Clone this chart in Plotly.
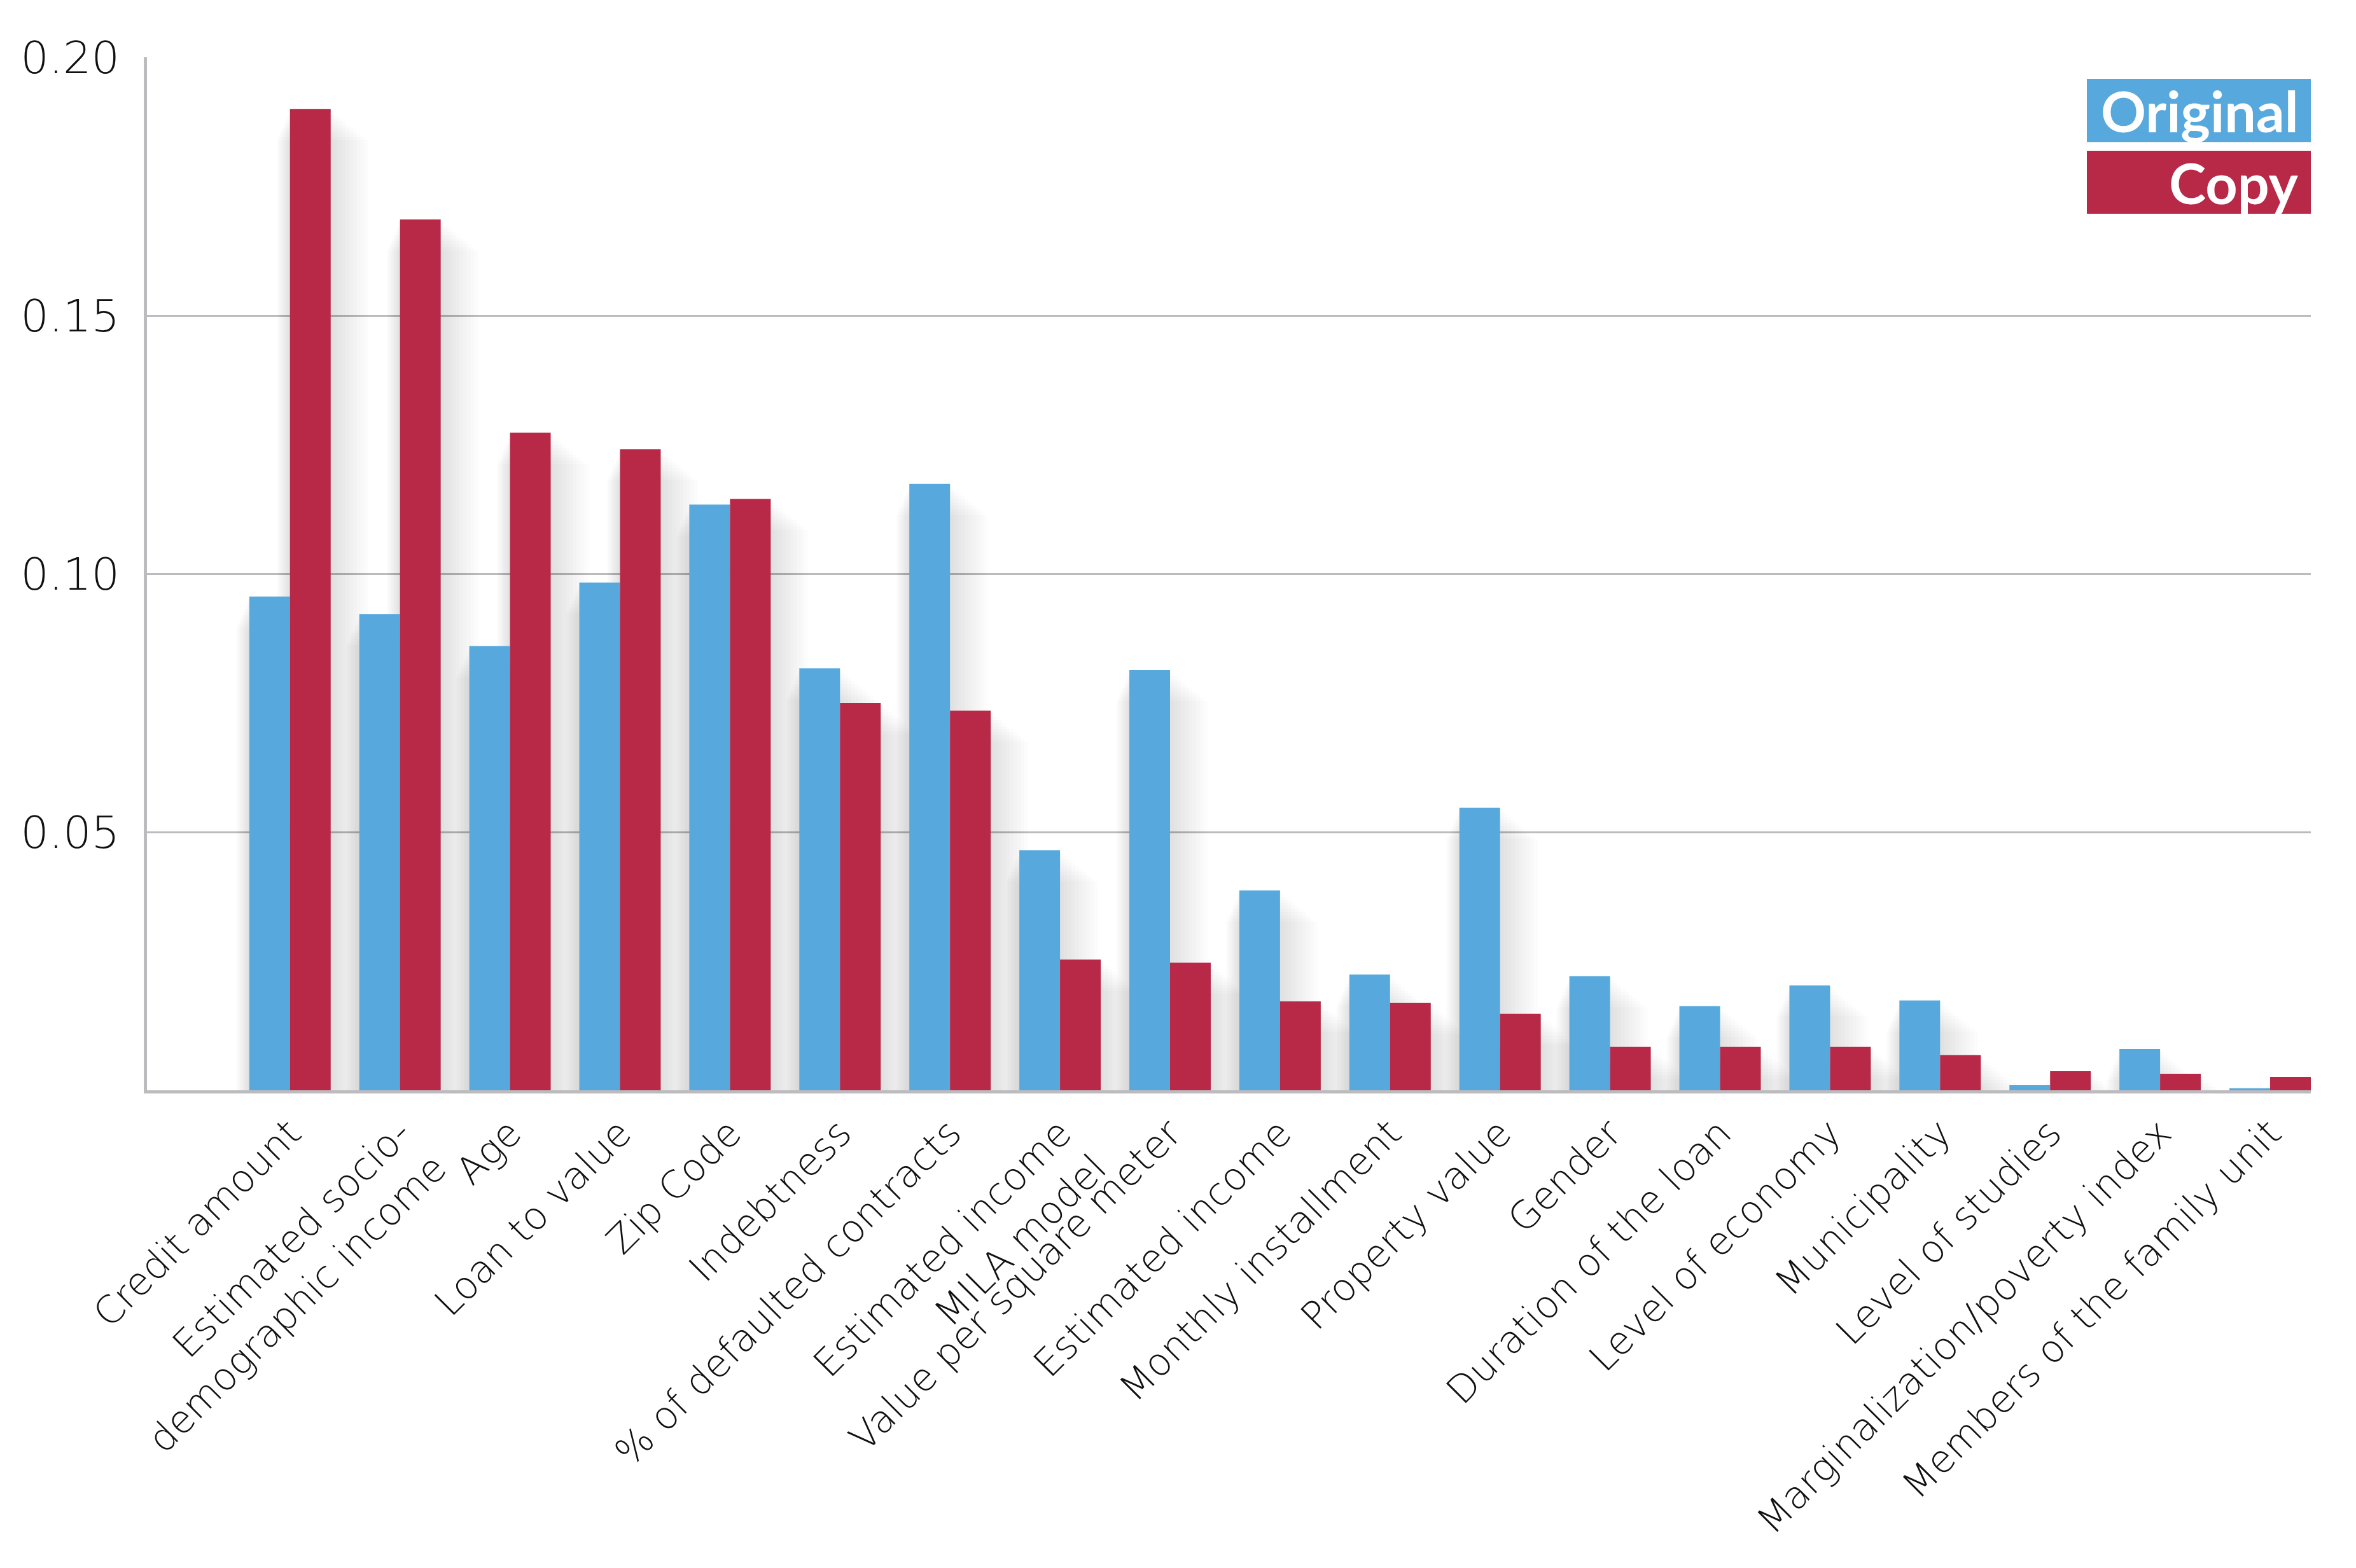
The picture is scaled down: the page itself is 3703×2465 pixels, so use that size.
import plotly.graph_objects as go

categories = [
    "Credit amount",
    "Estimated socio-<br>demographic income",
    "Age",
    "Loan to value",
    "Zip Code",
    "Indebtness",
    "% of defaulted contracts",
    "Estimated income<br>MILA model",
    "Value per square meter",
    "Estimated income",
    "Monthly installment",
    "Property value",
    "Gender",
    "Duration of the loan",
    "Level of economy",
    "Municipality",
    "Level of studies",
    "Marginalization/poverty index",
    "Members of the family unit",
]
original = [0.0956, 0.0922, 0.0860, 0.0983, 0.1134, 0.0817, 0.1174, 0.0465, 0.0814, 0.0387,
            0.0224, 0.0547, 0.0221, 0.0163, 0.0203, 0.0174, 0.0010, 0.0080, 0.0004]
copy = [0.1900, 0.1686, 0.1273, 0.1241, 0.1145, 0.0750, 0.0735, 0.0253, 0.0247, 0.0172,
        0.0169, 0.0148, 0.0084, 0.0084, 0.0084, 0.0068, 0.0037, 0.0032, 0.0026]
y_ticks = [0.05, 0.10, 0.15, 0.20]
y_tick_text = ["0.05", "0.10", "0.15", "0.20"]

BLUE = "#57a9dd"
RED = "#b82847"
GRID = "#bcbcbf"
TEXT = "#111111"
BW = 0.37

x = list(range(len(categories)))

fig = go.Figure()

# soft drop shadow behind bars (layered translucent grey)
N = 10
for i in range(1, N + 1):
    for vals, off in ((original, -BW), (copy, 0.0)):
        fig.add_trace(go.Bar(
            x=x, y=[max(v - 0.0006 * i, 0) for v in vals],
            offset=off - 0.012 * i, width=BW + 0.012 * i + 0.034 * i,
            marker=dict(color="rgba(0,0,0,0.013)", line=dict(width=0)),
            hoverinfo="skip", showlegend=False))

fig.add_trace(go.Bar(x=x, y=original, name="Original", offset=-BW, width=BW,
                     marker=dict(color=BLUE, line=dict(width=0))))
fig.add_trace(go.Bar(x=x, y=copy, name="Copy", offset=0, width=BW,
                     marker=dict(color=RED, line=dict(width=0))))

fig.update_layout(
    width=3703, height=2465,
    margin=dict(l=223, r=79, t=82, b=759),
    paper_bgcolor="white", plot_bgcolor="white",
    barmode="overlay",
    showlegend=False,
    font=dict(family="DejaVu Sans", color=TEXT),
)
fig.update_xaxes(
    tickmode="array", tickvals=x, ticktext=categories,
    tickangle=-45, tickfont=dict(size=60, family="DejaVu Sans", weight=200, color=TEXT),
    range=[-1.3, 18.37], automargin=False,
    showline=True, linecolor=GRID, linewidth=5,
    showgrid=False, ticks="", ticklabelstandoff=3,
)
fig.update_yaxes(
    range=[0, 0.2], tickmode="array", tickvals=y_ticks, ticktext=y_tick_text,
    tickfont=dict(size=70, family="DejaVu Sans", weight=200, color=TEXT), automargin=False,
    showline=True, linecolor=GRID, linewidth=5,
    showgrid=True, gridcolor=GRID, gridwidth=3,
    zeroline=False, ticks="", ticklabelstandoff=24,
)

# legend boxes
for label, color, y0, y1 in [("Original", BLUE, 0.918, 0.979), ("Copy", RED, 0.8485, 0.9095)]:
    fig.add_shape(type="rect", xref="paper", yref="paper", x0=0.8965, x1=1.0, y0=y0, y1=y1,
                  fillcolor=color, line=dict(width=0), layer="above")
    fig.add_annotation(xref="paper", yref="paper", x=0.995, y=(y0 + y1) / 2,
                       xanchor="right", yanchor="middle", showarrow=False,
                       text="<b>" + label + "</b>",
                       font=dict(size=88, family="Lato", color="white"))

fig.write_html("out.html")
